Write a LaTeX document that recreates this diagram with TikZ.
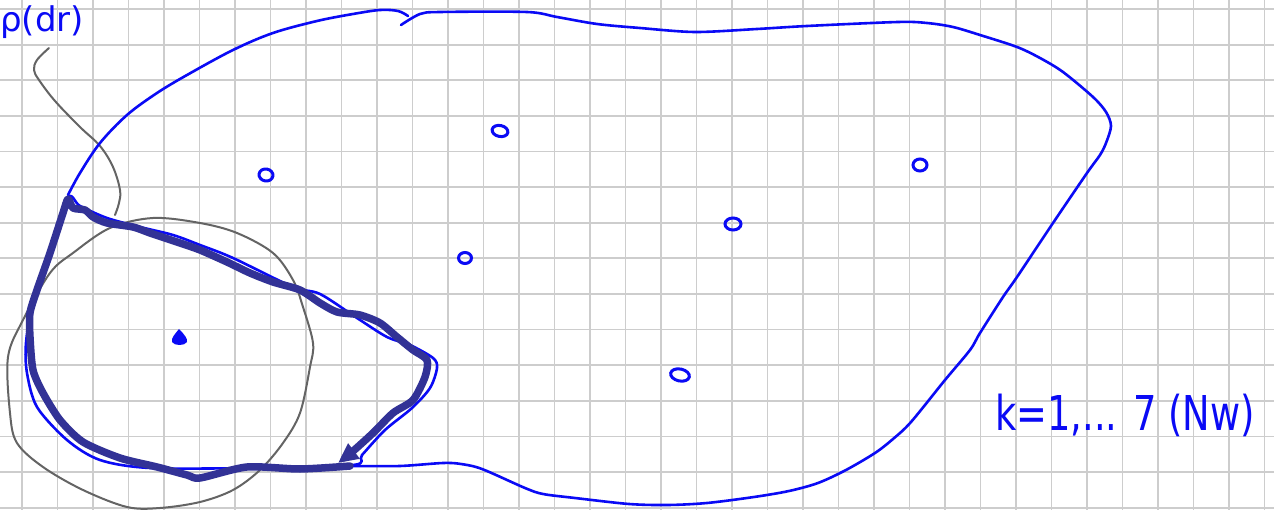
\documentclass[tikz,border=0pt]{standalone}
\usepackage{fontspec}
\newfontfamily\handfont{DejaVu Sans}
\usetikzlibrary{arrows.meta}
\definecolor{gridgray}{RGB}{205,205,205}
\definecolor{penblue}{RGB}{10,10,245}
\definecolor{thickblue}{RGB}{50,50,150}
\definecolor{pengray}{RGB}{100,100,100}
\tikzset{
  gridline/.style={draw=gridgray,line width=1.8pt},
  thinpen/.style={draw=penblue,line width=2.6pt,line cap=round,line join=round},
  thickpen/.style={draw=thickblue,line width=7.5pt,line cap=round,line join=round},
  graypen/.style={draw=pengray,line width=2pt,line cap=round,line join=round},
  dotpen/.style={draw=penblue,line width=3pt},
  handtext/.style={text=penblue,inner sep=0pt}
}
\begin{document}
\begin{tikzpicture}[x=1pt,y=-1pt]
\useasboundingbox (0,0) rectangle (1274,510);
\clip (0,0) rectangle (1274,510);
\fill[white] (0,0) rectangle (1274,510);
% grid
\foreach \i in {0,...,35} \draw[gridline] ({22+35.5*\i},0) -- ({22+35.5*\i},510);
\foreach \j in {0,...,14} \draw[gridline] (0,{9+35.62*\j}) -- (1274,{9+35.62*\j});

% gray circle
\draw[graypen] plot[smooth cycle,tension=0.55] coordinates {
 (153,218) (200,223) (237,233) (273,253) (293,280) (303,307) (313,343) (310,367)
 (300,413) (283,443) (260,470) (233,490) (200,502) (160,508) (127,507) (83,490)
 (43,467) (17,443) (10,413) (8,357) (23,320) (50,273) (73,253) (110,228)};

% gray leader line
\coordinate (leadA) at (49,48);
\coordinate (leadB) at (115,215);
\draw[graypen] plot[smooth,tension=0.6] coordinates {
 (leadA) (37,60) (34,70) (39,80) (55,101) (80,127) (100,146) (113,167) (120,190) (119,203) (leadB)};

% big thin outline, first stroke
\draw[thinpen] plot[smooth,tension=0.55] coordinates {
 (68,195) (80,173) (100,143) (127,115) (157,93) (187,75) (233,50) (273,33) (317,21) (353,14) (380,10) (398,11) (408,16)};
% big thin outline, second stroke
\draw[thinpen] plot[smooth,tension=0.5] coordinates {
 (401,25) (420,14) (440,12) (527,12) (557,17) (597,24) (640,28) (695,32) (757,29) (807,26) (898,22) (927,23)
 (953,27) (980,35) (1017,47) (1040,58) (1063,72) (1093,97) (1106,112) (1111,126) (1106,143) (1100,155) (1087,173)
 (1053,223) (1017,277) (1003,297) (980,333) (970,350) (945,380) (911,422) (893,439) (875,453) (846,470)
 (818,483) (789,491) (754,497) (707,503) (668,505) (629,504) (575,498) (543,494) (525,488) (482,469)
 (461,464) (443,463) (400,466) (353,466)};
% small region thin loop
\draw[thinpen] plot[smooth cycle,tension=0.5] coordinates {
 (68,198) (50,255) (33,300) (26,343) (27,373) (37,407) (67,440) (100,460) (150,468) (250,468) (353,465)
 (362,455) (385,430) (412,408) (430,388) (437,368) (433,358) (410,345) (387,337) (357,318) (320,294)
 (293,287) (233,258) (200,245) (173,235) (140,227) (107,218) (80,206)};

% thick dark path with arrow
\draw[thickpen,-{Triangle[length=20pt,width=18pt]}] plot[smooth,tension=0.45] coordinates {
 (350,466) (300,469) (247,467) (200,478) (187,475) (157,467) (120,458) (83,442) (60,420) (43,393) (33,370)
 (30,337) (30,313) (37,290) (50,253) (63,213) (68,199) (73,208) (85,210) (93,217) (107,223) (133,227) (150,233)
 (180,243) (200,250) (227,262) (250,273) (273,282) (300,290) (320,303) (337,312) (360,315) (380,323) (397,337)
 (413,350) (427,360) (425,377) (413,400) (393,413) (373,433) (352,452) (338,463)};

% little dots
\draw[dotpen,rotate around={-10:(266,175)}] (266,175) ellipse [x radius=7, y radius=6];
\draw[dotpen,rotate around={-12:(500,131)}] (500,131) ellipse [x radius=8, y radius=5.5];
\draw[dotpen] (465,258) ellipse [x radius=6.5, y radius=5.5];
\draw[dotpen] (733,224) ellipse [x radius=8, y radius=6];
\draw[dotpen] (920,165) ellipse [x radius=7, y radius=6];
\draw[dotpen,rotate around={-12:(680,375)}] (680,375) ellipse [x radius=9.5, y radius=6];
\fill[penblue] (179,329) .. controls (184,334) and (188,339) .. (187,342) .. controls (185,346) and (174,346) .. (172,342) .. controls (171,338) and (175,334) .. cycle;

% texts
\node[handtext,anchor=base west,font=\handfont\fontsize{34}{40}\selectfont] (rho) at (0,32) {ρ(dr)};
\node[handtext,anchor=base west,font=\handfont\fontsize{40}{48}\selectfont] (klabel) at (995,430) {\scalebox{0.92}[1.2]{k=1,... 7 (Nw)}};
\end{tikzpicture}
\end{document}
